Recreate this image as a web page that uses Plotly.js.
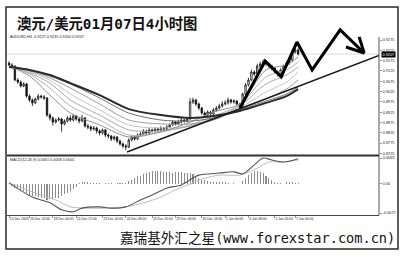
<!DOCTYPE html>
<html>
<head>
<meta charset="utf-8">
<script src="https://cdn.plot.ly/plotly-3.0.1.min.js"></script>
<style>
  html, body { margin: 0; padding: 0; background: #fff; }
  #chart { width: 400px; height: 257px; }
</style>
</head>
<body>
<div id="chart"></div>
<script>
// AUD/USD 4-hour bars, 15 Dec 2009 16:00 to 7 Jan 2010 04:00
const openPx = [
  0.9163,0.9154,0.9149,0.9081,0.9071,0.9052,0.9062,0.9003,0.8984,0.8970,
  0.8989,0.9003,0.8999,0.8994,0.8911,0.8897,0.8877,0.8887,0.8892,0.8868,
  0.8882,0.8897,0.8887,0.8906,0.8892,0.8882,0.8897,0.8858,0.8853,0.8843,
  0.8848,0.8834,0.8824,0.8839,0.8814,0.8809,0.8795,0.8805,0.8785,0.8771,
  0.8761,0.8756,0.8790,0.8805,0.8795,0.8814,0.8819,0.8834,0.8824,0.8839,
  0.8834,0.8843,0.8839,0.8848,0.8843,0.8853,0.8863,0.8877,0.8868,0.8877,
  0.8887,0.8882,0.8892,0.8975,0.8984,0.8965,0.8945,0.8921,0.8911,0.8926,
  0.8916,0.8936,0.8945,0.8955,0.8965,0.8970,0.8984,0.8975,0.8979,0.8965,
  0.8950,0.9013,0.9057,0.9081,0.9120,0.9110,0.9149,0.9159,0.9168,0.9159,
  0.9149,0.9139,0.9120,0.9110,0.9130,0.9149,0.9163,0.9178,0.9217,0.9227
];
const highPx = [
  0.9172,0.9163,0.9152,0.9090,0.9078,0.9070,0.9066,0.9012,0.8992,0.8996,
  0.9013,0.9010,0.9008,0.8998,0.8920,0.8904,0.8895,0.8902,0.8897,0.8890,
  0.8906,0.8910,0.8915,0.8912,0.8898,0.8912,0.8902,0.8868,0.8860,0.8858,
  0.8855,0.8842,0.8846,0.8843,0.8822,0.8815,0.8812,0.8810,0.8792,0.8778,
  0.8770,0.8798,0.8814,0.8810,0.8822,0.8828,0.8842,0.8840,0.8848,0.8845,
  0.8852,0.8850,0.8857,0.8854,0.8862,0.8870,0.8886,0.8882,0.8888,0.8895,
  0.8893,0.8900,0.8994,0.8996,0.8990,0.8972,0.8950,0.8928,0.8934,0.8932,
  0.8945,0.8955,0.8966,0.8978,0.8982,0.8996,0.8990,0.8988,0.8985,0.8970,
  0.9020,0.9066,0.9092,0.9132,0.9128,0.9160,0.9170,0.9180,0.9175,0.9166,
  0.9155,0.9145,0.9126,0.9138,0.9156,0.9172,0.9190,0.9230,0.9261,0.9235
];
const lowPx = [
  0.9148,0.9139,0.9076,0.9062,0.9045,0.9046,0.8994,0.8975,0.8955,0.8964,
  0.8982,0.8990,0.8985,0.8902,0.8885,0.8860,0.8870,0.8880,0.8830,0.8862,
  0.8875,0.8878,0.8880,0.8884,0.8870,0.8876,0.8850,0.8842,0.8832,0.8836,
  0.8822,0.8812,0.8816,0.8805,0.8798,0.8785,0.8788,0.8776,0.8762,0.8750,
  0.8740,0.8750,0.8784,0.8786,0.8790,0.8806,0.8812,0.8816,0.8818,0.8826,
  0.8828,0.8830,0.8832,0.8836,0.8838,0.8846,0.8858,0.8860,0.8862,0.8870,
  0.8874,0.8876,0.8888,0.8965,0.8955,0.8936,0.8912,0.8902,0.8905,0.8908,
  0.8910,0.8928,0.8938,0.8948,0.8958,0.8962,0.8966,0.8966,0.8955,0.8940,
  0.8945,0.9006,0.9050,0.9075,0.9100,0.9104,0.9140,0.9150,0.9148,0.9140,
  0.9128,0.9110,0.9098,0.9104,0.9122,0.9142,0.9155,0.9170,0.9210,0.9200
];
const closePx = [
  0.9154,0.9149,0.9081,0.9071,0.9052,0.9062,0.9003,0.8984,0.8970,0.8989,
  0.9003,0.8999,0.8994,0.8911,0.8897,0.8877,0.8887,0.8892,0.8868,0.8882,
  0.8897,0.8887,0.8906,0.8892,0.8882,0.8897,0.8858,0.8853,0.8843,0.8848,
  0.8834,0.8824,0.8839,0.8814,0.8809,0.8795,0.8805,0.8785,0.8771,0.8761,
  0.8756,0.8790,0.8805,0.8795,0.8814,0.8819,0.8834,0.8824,0.8839,0.8834,
  0.8843,0.8839,0.8848,0.8843,0.8853,0.8863,0.8877,0.8868,0.8877,0.8887,
  0.8882,0.8892,0.8975,0.8984,0.8965,0.8945,0.8921,0.8911,0.8926,0.8916,
  0.8936,0.8945,0.8955,0.8965,0.8970,0.8984,0.8975,0.8979,0.8965,0.8950,
  0.9013,0.9057,0.9081,0.9120,0.9110,0.9149,0.9159,0.9168,0.9159,0.9149,
  0.9139,0.9120,0.9110,0.9130,0.9149,0.9163,0.9178,0.9217,0.9227,0.9207
];

// Moving-average ribbon, sampled at these bars
const maIdx  = [0, 7, 14, 21, 31, 41, 52, 62, 70, 79, 88, 95, 99];
const maFast = [0.9149,0.9100,0.9008,0.8921,0.8863,0.8805,0.8829,0.8877,0.8926,0.8965,0.9130,0.9154,0.9193];
const maB    = [0.9149,0.9110,0.9042,0.8955,0.8887,0.8814,0.8829,0.8863,0.8906,0.8960,0.9096,0.9130,0.9168];
const maC    = [0.9149,0.9115,0.9066,0.8984,0.8911,0.8839,0.8834,0.8858,0.8897,0.8955,0.9062,0.9105,0.9144];
const maD    = [0.9149,0.9120,0.9081,0.9013,0.8936,0.8863,0.8848,0.8858,0.8887,0.8945,0.9023,0.9071,0.9120];
const maE    = [0.9149,0.9125,0.9091,0.9042,0.8965,0.8887,0.8868,0.8868,0.8887,0.8940,0.8989,0.9037,0.9081];
const maF    = [0.9149,0.9130,0.9100,0.9062,0.8994,0.8921,0.8887,0.8882,0.8897,0.8936,0.8979,0.9013,0.9047];
const maSlow = [0.9144,0.9130,0.9105,0.9066,0.9008,0.8940,0.8911,0.8897,0.8906,0.8931,0.8970,0.9003,0.9037];

// Support line from the December low
const trendIdx = [40.4, 126.7];
const trendPx  = [0.8732, 0.9200];

// Projected path with arrow
const forecastIdx = [79.1, 87.7, 93.2, 98.6, 103.8, 113.4, 121.6];
const forecastPx  = [0.8945, 0.9173, 0.9096, 0.9265, 0.9130, 0.9324, 0.9212];
const arrowIdx = [115.4, 121.6, 119.9];
const arrowPx  = [0.9241, 0.9212, 0.9290];

// MACD(12,26,9)
const macdHist = [
  -0.0002,-0.0005,-0.0010,-0.0012,-0.0016,-0.0018,-0.0024,-0.0028,-0.0031,-0.0030,
  -0.0032,-0.0035,-0.0036,-0.0040,-0.0038,-0.0037,-0.0036,-0.0034,-0.0030,-0.0026,
  -0.0022,-0.0018,-0.0012,-0.0008,0.0002,0.0003,0.0004,0.0003,0.0002,0.0002,
  0.0001,0.0001,0.0000,0.0001,0.0002,0.0001,0.0000,0.0001,0.0002,0.0001,
  0.0002,0.0006,0.0010,0.0014,0.0018,0.0020,0.0024,0.0027,0.0029,0.0030,
  0.0031,0.0030,0.0031,0.0029,0.0028,0.0028,0.0027,0.0028,0.0029,0.0028,
  0.0027,0.0026,0.0027,0.0024,0.0018,0.0014,0.0010,0.0008,0.0006,0.0005,
  0.0004,0.0005,0.0004,0.0004,0.0003,0.0002,0.0000,0.0001,-0.0001,0.0000,
  0.0006,0.0014,0.0022,0.0027,0.0030,0.0031,0.0029,0.0025,0.0019,0.0013,
  0.0008,0.0004,0.0002,0.0001,0.0000,0.0003,0.0004,0.0003,0.0002,0.0001
];
const macdIdx = [0, 8, 14, 18, 22, 25, 31, 35, 40, 45, 49, 54, 59, 63, 65, 72, 77, 80, 84, 87, 90, 94, 99];
const macdVal = [0.0002,-0.0033,-0.0047,-0.0064,-0.0069,-0.0060,-0.0057,-0.0060,-0.0057,-0.0040,-0.0028,-0.0011,-0.0003,0.0014,0.0021,0.0026,0.0029,0.0024,0.0046,0.0063,0.0058,0.0053,0.0061];
const signalIdx = [0, 11, 16, 21, 27, 35, 40, 46, 52, 57, 63, 65, 72, 79, 85, 89, 94, 99];
const signalVal = [0.0002,-0.0028,-0.0040,-0.0057,-0.0060,-0.0060,-0.0057,-0.0047,-0.0033,-0.0015,0.0002,0.0009,0.0021,0.0021,0.0038,0.0053,0.0053,0.0058];

// Axis labels
const dateTickIdx  = [0, 7, 15, 23, 32, 40, 49, 57, 66, 74, 82, 91, 98];
const dateTickText = ['15 Dec 2009','16 Dec 20:00','18 Dec 04:00','21 Dec 12:00','23 Dec 00:00',
  '24 Dec 08:00','25 Dec 20:00','29 Dec 04:00','30 Dec 16:00','1 Jan 00:00','4 Jan 08:00',
  '5 Jan 20:00','7 Jan 00:00'];
const priceTicks = [0.9275,0.9225,0.9175,0.9125,0.9075,0.9025,0.8975,0.8925,0.8875,0.8825,0.8775,0.8725];
const macdTicks = [0.0063, 0, -0.0072];
const macdTickText = ['0.0063', '0.00', '-0.0072'];

const titleText = '澳元/美元01月07日4小时图';
const footerText = '嘉瑞基外汇之星(www.forexstar.com.cn)';

const barIdx = openPx.map((_, i) => i);
const last = closePx.length - 1;

const W = 400, H = 257;
const px = x => x / W;
const py = y => 1 - y / H;
const tiny = { family: 'Liberation Sans, Arial, sans-serif', size: 3.8, color: '#222' };
const dateFont = { family: 'Liberation Sans, Arial, sans-serif', size: 3.3, color: '#222' };

function maTrace(vals, color, width) {
  return { type: 'scatter', mode: 'lines', x: maIdx, y: vals, xaxis: 'x', yaxis: 'y',
    line: { color: color, width: width, shape: 'spline', smoothing: 0.8 }, hoverinfo: 'skip' };
}

const traces = [
  maTrace(maD, '#c4c4c4', 1),
  maTrace(maB, '#b4b4b4', 1),
  maTrace(maE, '#9c9c9c', 1),
  maTrace(maC, '#a8a8a8', 1),
  maTrace(maFast, '#909090', 1),
  maTrace(maF, '#6e6e6e', 1),
  maTrace(maSlow, '#2a2a2a', 2),
  {
    type: 'candlestick', x: barIdx, open: openPx, high: highPx, low: lowPx, close: closePx,
    xaxis: 'x', yaxis: 'y', whiskerwidth: 0,
    increasing: { line: { color: '#111', width: 0.8 }, fillcolor: '#fff' },
    decreasing: { line: { color: '#111', width: 0.8 }, fillcolor: '#111' },
    hoverinfo: 'skip'
  },
  { type: 'scatter', mode: 'lines', x: trendIdx, y: trendPx, xaxis: 'x', yaxis: 'y',
    line: { color: '#1a1a1a', width: 1.5 }, hoverinfo: 'skip' },
  { type: 'scatter', mode: 'lines', x: forecastIdx, y: forecastPx, xaxis: 'x', yaxis: 'y',
    line: { color: '#000', width: 3 }, hoverinfo: 'skip' },
  { type: 'scatter', mode: 'lines', x: arrowIdx, y: arrowPx, xaxis: 'x', yaxis: 'y',
    line: { color: '#000', width: 3 }, hoverinfo: 'skip' },
  { type: 'bar', x: barIdx, y: macdHist, xaxis: 'x', yaxis: 'y2', width: 0.35,
    marker: { color: '#8c8c8c', line: { width: 0 } }, hoverinfo: 'skip' },
  { type: 'scatter', mode: 'lines', x: signalIdx, y: signalVal, xaxis: 'x', yaxis: 'y2',
    line: { color: '#bdbdbd', width: 1, shape: 'spline', smoothing: 0.8 }, hoverinfo: 'skip' },
  { type: 'scatter', mode: 'lines', x: macdIdx, y: macdVal, xaxis: 'x', yaxis: 'y2',
    line: { color: '#555', width: 1.1, shape: 'spline', smoothing: 0.8 }, hoverinfo: 'skip' }
];

const layout = {
  width: W, height: H,
  margin: { l: 0, r: 0, t: 0, b: 0 },
  paper_bgcolor: '#fff', plot_bgcolor: 'rgba(0,0,0,0)',
  showlegend: false, bargap: 0,
  xaxis: {
    domain: [px(7), px(379)], range: [-0.7, 126.7], anchor: 'y2',
    showgrid: false, zeroline: false, showline: true, linecolor: '#444', linewidth: 1,
    ticks: 'outside', ticklen: 2, tickcolor: '#555', tickwidth: 0.6,
    tickvals: dateTickIdx, ticktext: dateTickText, tickangle: 0,
    ticklabelposition: 'outside right', tickfont: dateFont,
    rangeslider: { visible: false }, fixedrange: true
  },
  yaxis: {
    domain: [py(155), py(22)], range: [0.87173, 0.93624], anchor: 'x', side: 'right',
    showgrid: false, zeroline: false, showline: false,
    ticks: 'outside', ticklen: 2, tickcolor: '#555', tickwidth: 0.6,
    tickvals: priceTicks, ticktext: priceTicks.map(v => v.toFixed(4)), tickfont: tiny,
    fixedrange: true
  },
  yaxis2: {
    domain: [py(215), py(156)], range: [-0.00769, 0.00679], anchor: 'x', side: 'right',
    showgrid: false, zeroline: false, showline: false,
    ticks: 'outside', ticklen: 2, tickcolor: '#555', tickwidth: 0.6,
    tickvals: macdTicks, ticktext: macdTickText, tickfont: tiny,
    fixedrange: true
  },
  shapes: [
    // outer frame
    { type: 'rect', xref: 'paper', yref: 'paper', x0: px(6), x1: px(398), y0: py(249), y1: py(7),
      line: { color: '#2a2a2a', width: 1.5 }, fillcolor: 'rgba(0,0,0,0)' },
    // price scale
    { type: 'line', xref: 'paper', yref: 'paper', x0: px(379), x1: px(379), y0: py(215), y1: py(37),
      line: { color: '#555', width: 1 } },
    // panel separator
    { type: 'line', xref: 'paper', yref: 'paper', x0: px(7), x1: px(379), y0: py(155.5), y1: py(155.5),
      line: { color: '#333', width: 2 } },
    // bid line
    { type: 'line', xref: 'paper', yref: 'y', x0: px(7), x1: px(379), y0: closePx[last], y1: closePx[last],
      line: { color: '#d0d0d0', width: 0.8 }, layer: 'below' }
  ],
  annotations: [
    { xref: 'paper', yref: 'paper', x: px(15), y: py(23), xanchor: 'left', yanchor: 'middle',
      text: '<b>' + titleText + '</b>', showarrow: false,
      font: { family: 'DejaVu Sans Mono, "Noto Sans CJK SC", sans-serif', size: 14.3, color: '#111' } },
    { xref: 'paper', yref: 'paper', x: px(118), y: py(238), xanchor: 'left', yanchor: 'middle',
      text: footerText, showarrow: false,
      font: { family: 'DejaVu Sans Mono, "Noto Sans CJK SC", monospace', size: 13.6, color: '#111' } },
    { xref: 'paper', yref: 'paper', x: px(8), y: py(37), xanchor: 'left', yanchor: 'middle',
      text: 'AUDUSD,H4  ' + [openPx[last], highPx[last], lowPx[last], closePx[last]].map(v => v.toFixed(4)).join(' '),
      showarrow: false, font: tiny },
    { xref: 'paper', yref: 'paper', x: px(8), y: py(159.5), xanchor: 'left', yanchor: 'middle',
      text: 'MACD(12,26,9) ' + [macdVal[macdVal.length - 1], signalVal[signalVal.length - 1], macdHist[last]].map(v => v.toFixed(4)).join(' '),
      showarrow: false, font: tiny },
    { xref: 'paper', yref: 'y', x: px(380.5), y: closePx[last], xanchor: 'left', yanchor: 'middle',
      text: closePx[last].toFixed(4), showarrow: false, bgcolor: '#000', borderpad: 0.6,
      font: { family: tiny.family, size: 3.8, color: '#fff' } }
  ]
};

Plotly.newPlot('chart', traces, layout, { staticPlot: true, displayModeBar: false });
</script>
</body>
</html>
